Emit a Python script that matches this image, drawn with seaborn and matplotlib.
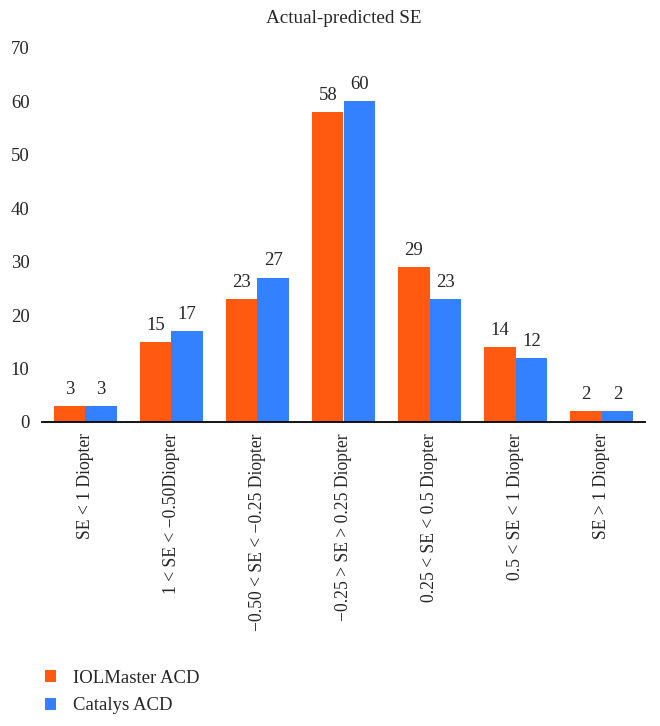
import matplotlib
matplotlib.use("Agg")
import matplotlib.pyplot as plt
import seaborn as sns
import pandas as pd
from matplotlib.patches import Patch

categories = [
    "SE < 1 Diopter",
    "1 < SE < \u22120.50Diopter",
    "\u22120.50 < SE < \u22120.25 Diopter",
    "\u22120.25 > SE > 0.25 Diopter",
    "0.25 < SE < 0.5 Diopter",
    "0.5 < SE < 1 Diopter",
    "SE > 1 Diopter",
]
series_names = ["IOLMaster ACD", "Catalys ACD"]
iolmaster = [3, 15, 23, 58, 29, 14, 2]
catalys = [3, 17, 27, 60, 23, 12, 2]
colors = ["#FF5A10", "#3381FF"]
yticks = [0, 10, 20, 30, 40, 50, 60, 70]

rows = []
for c, a, b in zip(categories, iolmaster, catalys):
    rows.append({"cat": c, "series": series_names[0], "value": a})
    rows.append({"cat": c, "series": series_names[1], "value": b})
df = pd.DataFrame(rows)

sns.set_style("white")
plt.rcParams["font.family"] = ["Liberation Serif", "DejaVu Serif"]

fig = plt.figure(figsize=(6.6, 7.26), dpi=100)
ax = fig.add_axes([42 / 660, 1 - 422 / 726, 603 / 660, 374 / 726])

sns.barplot(data=df, x="cat", y="value", hue="series", palette=colors,
            order=categories, hue_order=series_names, width=0.73,
            saturation=1, ax=ax, legend=False, edgecolor="none")

for cont in ax.containers:
    ax.bar_label(cont, labels=[f"{int(v)}" for v in cont.datavalues],
                 padding=6, fontsize=13.5)

ax.set_ylim(0, 70)
ax.set_yticks(yticks)
ax.set_xlim(-0.5, len(categories) - 0.5)
ax.set_xlabel("")
ax.set_ylabel("")
for s in ["top", "right", "left"]:
    ax.spines[s].set_visible(False)
ax.spines["bottom"].set_color("black")
ax.spines["bottom"].set_linewidth(1.3)
ax.tick_params(axis="y", length=0, pad=9, labelsize=13.5)
ax.tick_params(axis="x", length=0, pad=8, labelsize=12.7)
ax.set_xticks(range(len(categories)))
ax.set_xticklabels(categories, rotation=90, va="top", ha="center")
ax.set_title("Actual-predicted SE", fontsize=13.8, pad=18)

handles = [Patch(facecolor=c, edgecolor="none") for c in colors]
fig.legend(handles, series_names, loc="upper left",
           bbox_to_anchor=(28 / 660, 1 - 653 / 726), frameon=False,
           fontsize=13.5, handlelength=0.6, handleheight=0.6,
           handletextpad=0.9, labelspacing=0.55)

fig.savefig("out.png", dpi=100)
